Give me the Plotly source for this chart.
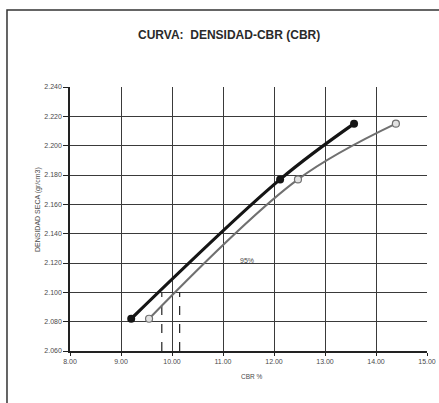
import plotly.graph_objects as go

# CBR test results: dry density vs CBR for the two compaction series
cbr_max = [9.20, 12.12, 13.57]
dens_max = [2.082, 2.177, 2.215]

cbr_low = [9.55, 12.47, 14.39]
dens_low = [2.082, 2.177, 2.215]

# CBR read at the 95 % density level on each curve
cbr_95 = [9.80, 10.15]
dens_95 = 2.100

x_ticks = [8, 9, 10, 11, 12, 13, 14, 15]
y_ticks = [2.06, 2.08, 2.10, 2.12, 2.14, 2.16, 2.18, 2.20, 2.22, 2.24]

FONT = "Liberation Sans, Arial, sans-serif"
GRID = "#3a3a3a"
LABEL = "#4a4a4a"

fig = go.Figure()

# dashed reference verticals down to the x axis
for c in cbr_95:
    fig.add_trace(go.Scatter(
        x=[c, c], y=[y_ticks[0], dens_95], mode="lines",
        line=dict(color="#222222", width=1.2, dash="dash"),
        hoverinfo="skip", showlegend=False))

fig.add_trace(go.Scatter(
    x=cbr_low, y=dens_low, mode="lines+markers",
    line=dict(color="#707070", width=2, shape="spline", smoothing=1),
    marker=dict(symbol="circle", size=7, color="#e2e2e2",
                line=dict(color="#707070", width=1.2)),
    showlegend=False))

fig.add_trace(go.Scatter(
    x=cbr_max, y=dens_max, mode="lines+markers",
    line=dict(color="#151515", width=3.2, shape="spline", smoothing=1),
    marker=dict(symbol="circle", size=8, color="#151515"),
    showlegend=False))

fig.update_xaxes(
    range=[8, 15], tickvals=x_ticks, tickformat=".2f",
    showgrid=True, gridcolor=GRID, gridwidth=1,
    showline=True, linecolor="#222222", linewidth=1.5,
    ticks="outside", ticklen=3, tickcolor="#222222",
    tickfont=dict(family=FONT, size=7, color=LABEL),
    zeroline=False, fixedrange=True, automargin=False)

fig.update_yaxes(
    range=[2.06, 2.24], tickvals=y_ticks, tickformat=".3f",
    showgrid=True, gridcolor=GRID, gridwidth=1,
    showline=True, linecolor="#222222", linewidth=1.5,
    ticks="outside", ticklen=5, tickcolor="#222222",
    tickfont=dict(family=FONT, size=7, color=LABEL),
    zeroline=False, fixedrange=True, automargin=False)

fig.add_annotation(
    text="CURVA:\u00a0 DENSIDAD-CBR (CBR)", xref="paper", yref="paper",
    x=0.445, y=1.197, showarrow=False, xanchor="center", yanchor="middle",
    font=dict(family=FONT, size=12, color="#2a2a2a", weight="bold"))

fig.add_annotation(
    text="CBR %", xref="paper", yref="paper", x=0.51, y=-0.098,
    showarrow=False, xanchor="center", yanchor="middle",
    font=dict(family=FONT, size=6.5, color=LABEL))

fig.add_annotation(
    text="DENSIDAD SECA (gr/cm3)", xref="paper", yref="paper",
    x=-0.0896, y=0.534, textangle=-90, showarrow=False,
    xanchor="center", yanchor="middle",
    font=dict(family=FONT, size=7, color=LABEL))

fig.add_annotation(
    text="95%", x=11.48, y=2.122, showarrow=False,
    xanchor="center", yanchor="middle",
    font=dict(family=FONT, size=7, color=LABEL))

# outer sheet frame (right and bottom edges run past the page)
fig.add_shape(type="rect", xref="paper", yref="paper",
              x0=-0.1765, x1=1.2, y0=-0.3, y1=1.2917,
              line=dict(color="#333333", width=1.5), layer="below")

fig.update_layout(
    width=439, height=403,
    margin=dict(l=70, r=12, t=87, b=52),
    paper_bgcolor="white", plot_bgcolor="white",
    showlegend=False)

fig.write_html("out.html", config={"displayModeBar": False})
